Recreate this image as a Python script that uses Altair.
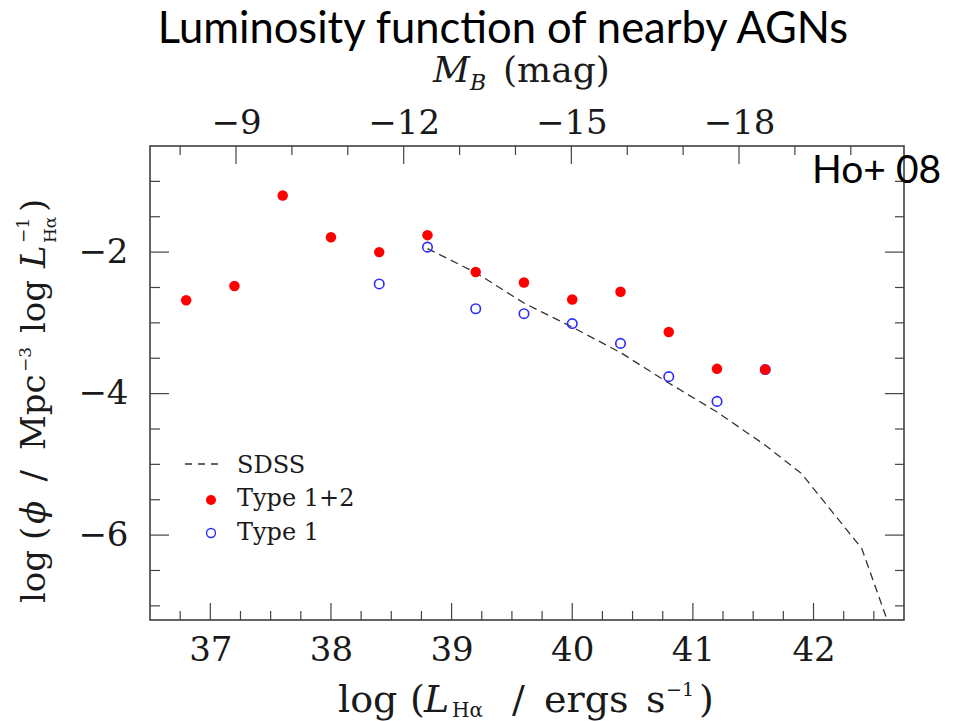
import altair as alt
import pandas as pd

# ---------------- data ----------------
L_type12 = [36.8, 37.2, 37.6, 38.0, 38.4, 38.8, 39.2, 39.6, 40.0, 40.4, 40.8, 41.2, 41.6]
phi_type12 = [-2.68, -2.48, -1.20, -1.79, -2.00, -1.76, -2.28, -2.43, -2.67, -2.56, -3.13, -3.65, -3.66]

L_type1 = [38.4, 38.8, 39.2, 39.6, 40.0, 40.4, 40.8, 41.2, 41.6]
phi_type1 = [-2.45, -1.93, -2.80, -2.87, -3.01, -3.29, -3.76, -4.11, -3.66]

L_sdss = [38.8, 39.2, 39.6, 40.0, 40.4, 40.8, 41.2, 41.6, 41.9, 42.4, 42.6]
phi_sdss = [-1.95, -2.29, -2.72, -3.06, -3.42, -3.85, -4.26, -4.73, -5.13, -6.19, -7.15]

# tick values
x_major = [37, 38, 39, 40, 41, 42]
x_minor = [36.75, 37.25, 37.5, 37.75, 38.25, 38.5, 38.75, 39.25, 39.5, 39.75,
           40.25, 40.5, 40.75, 41.25, 41.5, 41.75, 42.25, 42.5]
y_major = [-2, -4, -6]
y_minor = [-1, -1.5, -2.5, -3, -3.5, -4.5, -5, -5.5, -6.5, -7]
m_major = [-9, -12, -15, -18]
m_minor = [-8, -10, -11, -13, -14, -16, -17, -19, -20]

# ---------------- layout ----------------
W, H = 754, 474
SERIF = "DejaVu Serif"
SANS = "Lato"
TXT = "#1a1a1a"
TICK = "#444444"

xscale = alt.Scale(domain=[36.5, 42.75], nice=False, zero=False)
yscale = alt.Scale(domain=[-7.2, -0.5], nice=False, zero=False)
mscale = alt.Scale(domain=[-7.461, -20.952], nice=False, zero=False)

bottom_axis = alt.Axis(orient="bottom", values=x_major, format="d", ticks=False, tickSize=0,
                       domain=False, grid=False, title=None, labelFont=SERIF, labelFontSize=34,
                       labelColor=TXT, labelPadding=13, labelFlush=False)
left_axis = alt.Axis(orient="left", values=y_major, format="d", ticks=False, tickSize=0,
                     domain=False, grid=False, title=None, labelFont=SERIF, labelFontSize=34,
                     labelColor=TXT, labelPadding=22)
top_axis = alt.Axis(orient="top", values=m_major, format="d", ticks=False, tickSize=0,
                    domain=False, grid=False, title=None, labelFont=SERIF, labelFontSize=34,
                    labelColor=TXT, labelPadding=6, labelFlush=False)

df12 = pd.DataFrame({"L": L_type12, "phi": phi_type12})
df1 = pd.DataFrame({"L": L_type1, "phi": phi_type1})
dfs = pd.DataFrame({"L": L_sdss, "phi": phi_sdss})

X = alt.X("L:Q", scale=xscale, axis=bottom_axis)
Y = alt.Y("phi:Q", scale=yscale, axis=left_axis)

sdss = alt.Chart(dfs).mark_line(color="#333333", strokeDash=[8, 5], strokeWidth=1.3, clip=True).encode(x=X, y=Y)
type1 = alt.Chart(df1).mark_point(shape="circle", filled=False, color="#2a2aff", strokeWidth=1.6,
                                  size=90, opacity=1).encode(x=X, y=Y)
type12 = alt.Chart(df12).mark_circle(color="#ff0000", size=110, opacity=1).encode(x=X, y=Y)


def vrules(vals, length, at_bottom=True):
    df = pd.DataFrame({"v": vals})
    y0 = H if at_bottom else 0
    y1 = H - length if at_bottom else length
    return alt.Chart(df).mark_rule(color=TICK, strokeWidth=1.2).encode(
        x=alt.X("v:Q", scale=xscale, axis=bottom_axis), y=alt.value(y0), y2=alt.value(y1))


def hrules(vals, length, at_left=True):
    df = pd.DataFrame({"v": vals})
    x0 = 0 if at_left else W
    x1 = length if at_left else W - length
    return alt.Chart(df).mark_rule(color=TICK, strokeWidth=1.2).encode(
        y=alt.Y("v:Q", scale=yscale, axis=left_axis), x=alt.value(x0), x2=alt.value(x1))


def txt(s, x, y, size=34, font=SERIF, style="normal", align="left", angle=0, baseline="alphabetic",
        color=TXT):
    kw = dict(font=font, fontSize=size, fontStyle=style, align=align, baseline=baseline, color=color)
    if angle:
        kw["angle"] = angle
    return alt.Chart(pd.DataFrame({"t": [s]})).mark_text(**kw).encode(
        text="t:N", x=alt.value(x), y=alt.value(y))


texts = [
    # main title
    txt("Luminosity function of nearby AGNs", 353, -103, size=43.5, font=SANS, align="center", color="#000"),
    txt("Ho+ 08", 662, 37, size=39, font=SANS, color="#000"),
    # top axis title
    txt("M", 283, -64, size=36, style="italic"),
    txt("B", 320, -56, size=22, style="italic"),
    txt("(mag)", 353, -64, size=36),
    # bottom axis title
    txt("log", 188, 566, size=38),
    txt("(", 260, 566, size=38),
    txt("L", 274, 566, size=38, style="italic"),
    txt("Hα", 302, 571, size=20),
    txt("/", 362, 566, size=38),
    txt("ergs", 394, 566, size=38),
    txt("s", 496, 566, size=38),
    txt("−1", 516, 550, size=19),
    txt(")", 549, 566, size=38),
    # left axis title (rotated)
    txt("log", -105, 457, size=34, angle=270),
    txt("(", -105, 394, size=34, angle=270),
    txt("ϕ", -105, 378, size=34, angle=270, style="italic"),
    txt("/", -105, 335.5, size=34, angle=270),
    txt("Mpc", -105, 304, size=34, angle=270),
    txt("−3", -119, 226, size=17, angle=270),
    txt("log", -105, 187, size=34, angle=270),
    txt("L", -105, 122, size=34, angle=270, style="italic"),
    txt("−1", -121, 97, size=17, angle=270),
    txt("Hα", -94, 97, size=17, angle=270),
    txt(")", -105, 66, size=34, angle=270),
    # legend labels
    txt("SDSS", 87, 327, size=24),
    txt("Type 1+2", 87, 360, size=24),
    txt("Type 1", 87, 394, size=24),
]

one = pd.DataFrame({"k": [0]})
leg_line = alt.Chart(one).mark_rule(color="#333333", strokeDash=[7, 6], strokeWidth=1.3).encode(
    x=alt.value(35), x2=alt.value(73), y=alt.value(318))
leg_red = alt.Chart(one).mark_circle(color="#ff0000", size=100, opacity=1).encode(
    x=alt.value(61), y=alt.value(354))
leg_blue = alt.Chart(one).mark_point(shape="circle", filled=False, color="#2a2aff", strokeWidth=1.4,
                                     size=80, opacity=1).encode(x=alt.value(61), y=alt.value(387))

inner = alt.layer(
    sdss, type1, type12,
    vrules(x_major, 17), vrules(x_minor, 9),
    hrules(y_major, 19), hrules(y_minor, 10),
    hrules(y_major, 19, at_left=False), hrules(y_minor, 9, at_left=False),
    leg_line, leg_red, leg_blue,
    *texts,
)

dfm_major = pd.DataFrame({"m": m_major})
dfm_minor = pd.DataFrame({"m": m_minor})
MX = alt.X("m:Q", scale=mscale, axis=top_axis)
top = alt.layer(
    alt.Chart(dfm_major).mark_rule(color=TICK, strokeWidth=1.2).encode(x=MX, y=alt.value(0), y2=alt.value(18)),
    alt.Chart(dfm_minor).mark_rule(color=TICK, strokeWidth=1.2).encode(x=MX, y=alt.value(0), y2=alt.value(9)),
)

chart = alt.layer(inner, top).resolve_scale(x="independent").properties(
    width=W, height=H,
    autosize=alt.AutoSizeParams(type="none"),
    padding={"left": 150, "top": 146, "right": 49, "bottom": 101},
    background="white",
).configure_view(stroke="#333333", strokeWidth=1.5)

chart.save("out.html", embed_options={"renderer": "svg", "actions": False})
